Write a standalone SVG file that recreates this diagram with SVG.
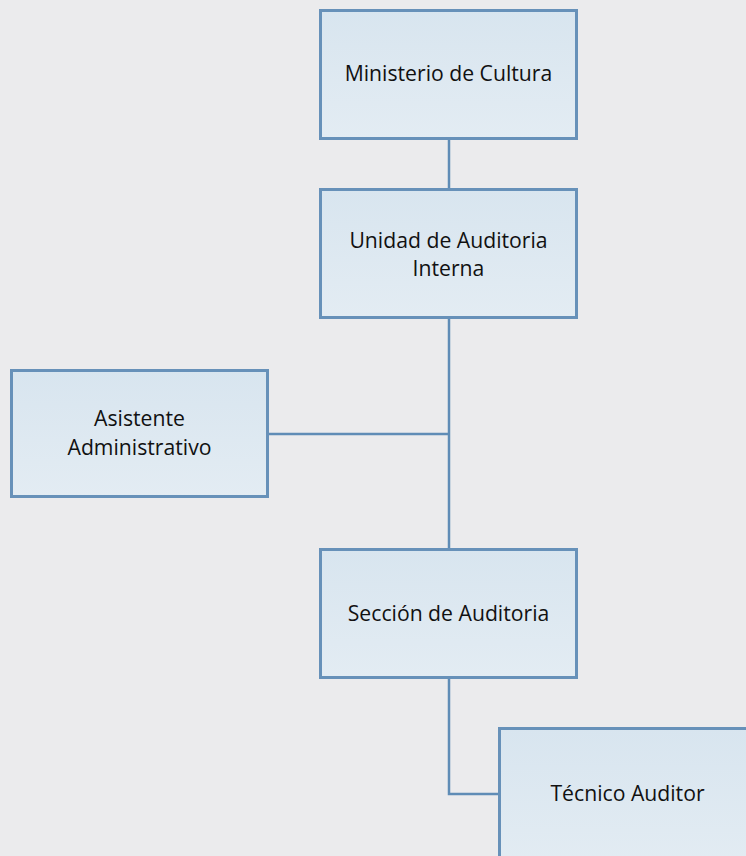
<svg xmlns="http://www.w3.org/2000/svg" width="746" height="856" viewBox="0 0 746 856">
  <defs>
    <linearGradient id="boxFill" x1="0" y1="0" x2="0" y2="1">
      <stop offset="0" stop-color="#d8e5ef"/>
      <stop offset="1" stop-color="#e3ecf3"/>
    </linearGradient>
  </defs>
  <style>
    .box { fill: url(#boxFill); stroke: #6791b9; stroke-width: 3; }
    .lbl { font-family: "Open Sans", "Noto Sans", sans-serif; font-size: 21.2px; fill: #111; text-anchor: middle; }
    .conn { fill: none; stroke: #5f8cb6; stroke-width: 2.5; }
  </style>
  <rect width="746" height="856" fill="#ebebed"/>

  <g id="connectors">
    <line class="conn" x1="449" y1="139" x2="449" y2="189"/>
    <line class="conn" x1="449" y1="318" x2="449" y2="549"/>
    <line class="conn" x1="268" y1="434" x2="449" y2="434"/>
    <polyline class="conn" points="449,678 449,794 499,794"/>
  </g>

  <g id="ministerio">
    <rect class="box" x="320.5" y="10.5" width="256" height="128"/>
    <text class="lbl" x="448.5" y="81">Ministerio de Cultura</text>
  </g>

  <g id="unidad-auditoria">
    <rect class="box" x="320.5" y="189.5" width="256" height="128"/>
    <text class="lbl" x="448.5" y="248">Unidad de Auditoria</text>
    <text class="lbl" x="448.5" y="276">Interna</text>
  </g>

  <g id="asistente">
    <rect class="box" x="11.5" y="370.5" width="256" height="126"/>
    <text class="lbl" x="139.5" y="426">Asistente</text>
    <text class="lbl" x="139.5" y="455">Administrativo</text>
  </g>

  <g id="seccion-auditoria">
    <rect class="box" x="320.5" y="549.5" width="256" height="128"/>
    <text class="lbl" x="448.5" y="621">Sección de Auditoria</text>
  </g>

  <g id="tecnico-auditor">
    <rect class="box" x="499.5" y="728.5" width="256" height="140"/>
    <text class="lbl" x="627.5" y="801">Técnico Auditor</text>
  </g>
</svg>
